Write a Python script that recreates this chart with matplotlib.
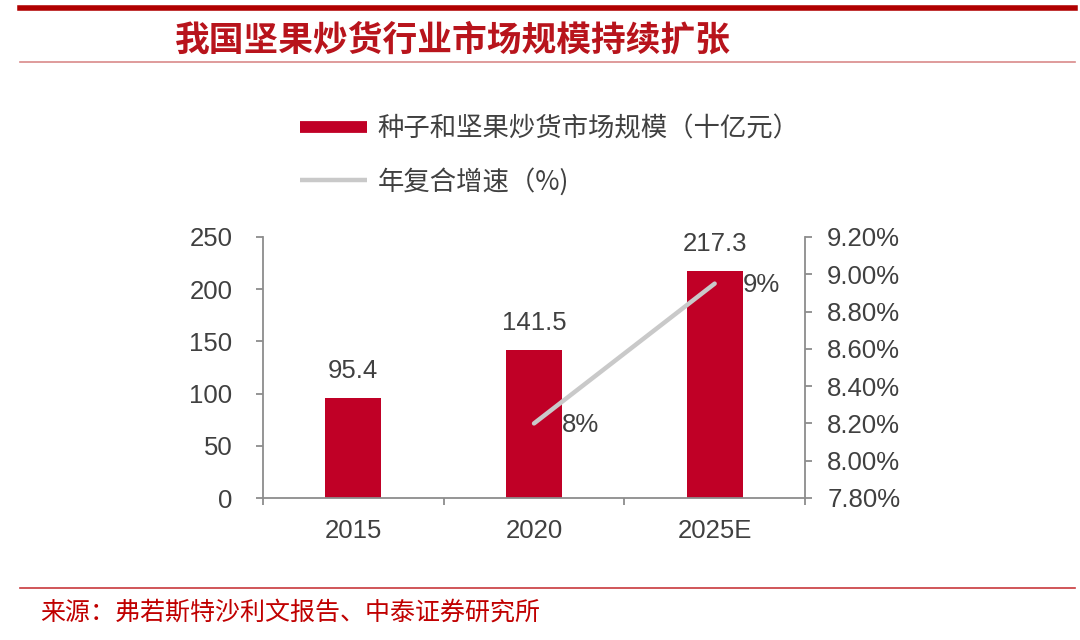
import matplotlib
matplotlib.use("Agg")
import matplotlib.pyplot as plt
from matplotlib.lines import Line2D
from matplotlib.ticker import FuncFormatter

plt.rcParams['font.family'] = ['Liberation Sans', 'Noto Sans CJK SC', 'DejaVu Sans']

# ---- data ----
categories = ["2015", "2020", "2025E"]
market_size = [95.4, 141.5, 217.3]          # 十亿元
cagr_x = ["2020", "2025E"]
cagr_values = [8.2, 8.95]                    # %
cagr_labels = ["8%", "9%"]
left_ticks = [0, 50, 100, 150, 200, 250]
right_ticks = [7.8, 8.0, 8.2, 8.4, 8.6, 8.8, 9.0, 9.2]

title = "我国坚果炒货行业市场规模持续扩张"
legend_bar = "种子和坚果炒货市场规模（十亿元）"
legend_line = "年复合增速（%)"
source = "来源：弗若斯特沙利文报告、中泰证券研究所"

BAR = "#C00026"
LINE = "#C9C9C9"
SPINE = "#8C8C8C"
TXT = "#404040"
RED = "#B8141C"
CJK = ['Noto Sans CJK SC', 'DejaVu Sans']
FS = 18.5

fig = plt.figure(figsize=(10.8, 6.4), dpi=100)
ax = fig.add_axes([263/1080, 1-498/640, (805-263)/1080, (498-237)/640])

x = list(range(len(categories)))
bars = ax.bar(x, market_size, width=0.31, color=BAR, zorder=2)
ax.set_xlim(-0.5, len(categories)-0.5)
ax.set_ylim(0, 250)
ax.set_yticks(left_ticks)
for rect, v in zip(bars, market_size):
    ax.annotate(f"{v:.1f}", (rect.get_x()+rect.get_width()/2, rect.get_height()),
                xytext=(0, 11), textcoords="offset points", ha="center", va="bottom",
                fontsize=FS, color=TXT)

ax.set_xticks(x)
ax.set_xticklabels(categories)
ax.set_xticks([i-0.5 for i in range(len(categories)+1)], minor=True)
ax.tick_params(axis='x', which='major', length=0, pad=15, labelsize=FS, labelcolor=TXT)
ax.tick_params(axis='x', which='minor', length=5, width=1.3, color=SPINE, direction='out')
ax.tick_params(axis='y', length=5, width=1.3, color=SPINE, pad=17, labelsize=FS, labelcolor=TXT)

for s in ['left', 'bottom']:
    ax.spines[s].set_color(SPINE)
    ax.spines[s].set_linewidth(1.3)
ax.spines['top'].set_visible(False)
ax.spines['right'].set_visible(False)

ax2 = ax.twinx()
ax2.set_ylim(7.8, 9.2)
ax2.set_yticks(right_ticks)
ax2.yaxis.set_major_formatter(FuncFormatter(lambda v, p: f"{v:.2f}%"))
ax2.tick_params(axis='y', length=5, width=1.3, color=SPINE, pad=11, labelsize=FS, labelcolor=TXT)
ax2.spines['right'].set_color(SPINE)
ax2.spines['right'].set_linewidth(1.3)
for s in ['top', 'left', 'bottom']:
    ax2.spines[s].set_visible(False)

lx = [categories.index(c) for c in cagr_x]
ax2.plot(lx, cagr_values, color=LINE, linewidth=3.2, solid_capstyle='round', zorder=3)
for xi, v, lab in zip(lx, cagr_values, cagr_labels):
    ax2.annotate(lab, (xi, v), xytext=(20, -1), textcoords="offset points",
                 ha="left", va="center", fontsize=FS, color=TXT)

handles = [Line2D([], [], color=BAR, linewidth=8.5, solid_capstyle='butt'),
           Line2D([], [], color=LINE, linewidth=3.2, solid_capstyle='butt')]
leg = fig.legend(handles, [legend_bar, legend_line], loc='upper left',
                 bbox_to_anchor=(300/1080, 1-115/640), frameon=False,
                 prop={'family': CJK, 'size': 19}, handlelength=2.55,
                 handletextpad=0.4, labelspacing=0.97, borderpad=0, borderaxespad=0)
for t in leg.get_texts():
    t.set_color(TXT)

# header / footer decorations
fig.add_artist(Line2D([20/1080, 1075/1080], [1-8/640, 1-8/640], color="#B00000", linewidth=4))
fig.add_artist(Line2D([20/1080, 1075/1080], [1-62/640, 1-62/640], color="#D98A8A", linewidth=1.2))
fig.add_artist(Line2D([20/1080, 1075/1080], [1-588/640, 1-588/640], color="#C8383C", linewidth=1.2))
fig.text(175/1080, 1-40/640, title, family=CJK, fontsize=25, fontweight='bold',
         color=RED, ha='left', va='center', style='italic')
fig.text(40/1080, 1-613/640, source, family=CJK, fontsize=18, color="#C00000",
         ha='left', va='center')

fig.savefig("out.png", dpi=100)
